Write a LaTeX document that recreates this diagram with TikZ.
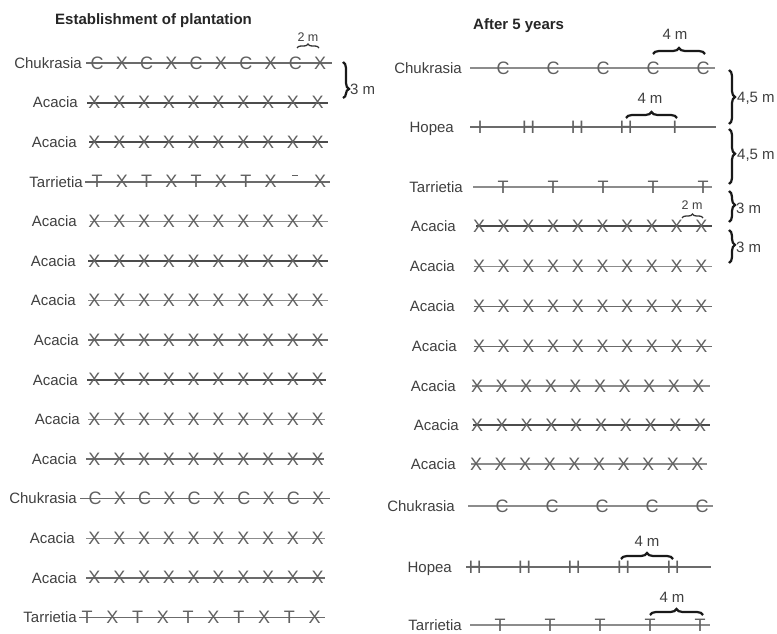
\documentclass[tikz,border=0pt]{standalone}
\usepackage{fontspec}
\setmainfont{Liberation Sans}
\usetikzlibrary{decorations.pathreplacing}
\tikzset{
  lbl/.style={font=\fontsize{15}{17}\selectfont, text=black!75, inner sep=0pt},
  ttl/.style={font=\fontsize{15}{17}\selectfont\bfseries, text=black!85, inner sep=0pt},
  mk/.style={font=\fontsize{18}{20}\selectfont, text=black!62, inner sep=0pt},
  rthin/.style={draw=black!45, line width=1.1pt},
  rmed/.style={draw=black!58, line width=1.5pt},
  rthick/.style={draw=black!70, line width=2.1pt},
  br/.style={decorate, decoration={brace, amplitude=6pt, aspect=#1}, line width=2.2pt, draw=black!90},
  br/.default=0.5,
  sbr/.style={decorate, decoration={brace, amplitude=4pt}, line width=1.3pt, draw=black!80},
  dimlbl/.style={font=\fontsize{15}{17}\selectfont, text=black!75, inner sep=0pt},
  sdimlbl/.style={font=\fontsize{12.5}{14}\selectfont, text=black!75, inner sep=0pt},
  dashmk/.style={draw=black!62, line width=1.3pt}
}
% row: id, y, label, label east x, line x0, line x1, style
\newcommand{\plantrow}[7]{%
  \coordinate (#1s) at (#5,#2);
  \coordinate (#1e) at (#6,#2);
  \draw[#7] (#1s) -- (#1e);
  \node[lbl, anchor=base east] (#1l) at (#4,#2+5.3) {#3};
}
% markers: id, y, first x, step, letters
\newcommand{\plantmarks}[5]{%
  \foreach \ml [count=\mi from 0] in {#5} {\node[mk] (#1m\mi) at ({#3+#4*\mi},#2) {\ml};}
}
\begin{document}
\begin{tikzpicture}[x=1pt,y=-1pt]
\useasboundingbox[fill=white] (0,0) rectangle (777,634);

% titles
\node[ttl, anchor=base west] (t1) at (55,25) {Establishment of plantation};
\node[ttl, anchor=base west] (t2) at (473,30) {After 5 years};

% ---------------- left panel ----------------
\plantrow{L1}{63}{Chukrasia}{82}{86}{332}{rmed}
\plantmarks{L1}{63}{97}{24.8}{C,X,C,X,C,X,C,X,C,X}
\plantrow{L2}{102.6}{Acacia}{78}{87}{328}{rthick}
\plantmarks{L2}{102.6}{94.5}{24.8}{X,X,X,X,X,X,X,X,X,X}
\plantrow{L3}{142.2}{Acacia}{77}{89}{328}{rthick}
\plantmarks{L3}{142.2}{94.5}{24.8}{X,X,X,X,X,X,X,X,X,X}
\plantrow{L4}{181.8}{Tarrietia}{83}{85}{330}{rmed}
\plantmarks{L4}{181.8}{97}{24.8}{T,X,T,X,T,X,T,X,{},X}
\draw[dashmk] ([xshift=-3pt,yshift=6pt]L4m8.center) -- ([xshift=3pt,yshift=6pt]L4m8.center);
\plantrow{L5}{221.4}{Acacia}{77}{90}{328}{rthin}
\plantmarks{L5}{221.4}{94.5}{24.8}{X,X,X,X,X,X,X,X,X,X}
\plantrow{L6}{261}{Acacia}{76}{88}{328}{rthick}
\plantmarks{L6}{261}{94.5}{24.8}{X,X,X,X,X,X,X,X,X,X}
\plantrow{L7}{300.6}{Acacia}{76}{88}{328}{rthin}
\plantmarks{L7}{300.6}{94.5}{24.8}{X,X,X,X,X,X,X,X,X,X}
\plantrow{L8}{340.2}{Acacia}{79}{88}{328}{rmed}
\plantmarks{L8}{340.2}{94.5}{24.8}{X,X,X,X,X,X,X,X,X,X}
\plantrow{L9}{379.8}{Acacia}{78}{87}{326}{rthick}
\plantmarks{L9}{379.8}{94.5}{24.8}{X,X,X,X,X,X,X,X,X,X}
\plantrow{L10}{419.4}{Acacia}{80}{88}{325}{rthin}
\plantmarks{L10}{419.4}{94.5}{24.8}{X,X,X,X,X,X,X,X,X,X}
\plantrow{L11}{459}{Acacia}{77}{86}{324}{rmed}
\plantmarks{L11}{459}{94.5}{24.8}{X,X,X,X,X,X,X,X,X,X}
\plantrow{L12}{498.6}{Chukrasia}{77}{80}{330}{rmed}
\plantmarks{L12}{498.6}{95}{24.8}{C,X,C,X,C,X,C,X,C,X}
\plantrow{L13}{538.2}{Acacia}{75}{86}{325}{rthin}
\plantmarks{L13}{538.2}{94.5}{24.8}{X,X,X,X,X,X,X,X,X,X}
\plantrow{L14}{577.8}{Acacia}{77}{86}{325}{rmed}
\plantmarks{L14}{577.8}{94.5}{24.8}{X,X,X,X,X,X,X,X,X,X}
\plantrow{L15}{617.4}{Tarrietia}{77}{79}{325}{rmed}
\plantmarks{L15}{617.4}{87}{25.3}{T,X,T,X,T,X,T,X,T,X}

% left dimensions
\draw[sbr] (297,48) -- (319,48);
\node[sdimlbl] (d2m) at (308,37) {2 m};
\draw[br=0.75] (343,62) -- (343,98);
\node[dimlbl, anchor=west] (d3m) at (350,89) {3 m};

% ---------------- right panel ----------------
\plantrow{R1}{68}{Chukrasia}{462}{470}{715}{rthin}
\plantmarks{R1}{68}{503}{50}{C,C,C,C,C}
\plantrow{R2}{127}{Hopea}{454}{470}{716}{rmed}
\plantmarks{R2}{127}{480}{48.7}{I,H,H,H,I}
\plantrow{R3}{187}{Tarrietia}{463}{473}{712}{rthin}
\plantmarks{R3}{187}{503}{50}{T,T,T,T,T}
\plantrow{R4}{226}{Acacia}{456}{476}{712}{rthick}
\plantmarks{R4}{226}{479}{24.7}{X,X,X,X,X,X,X,X,X,X}
\plantrow{R5}{266.5}{Acacia}{455}{474}{712}{rthin}
\plantmarks{R5}{266.5}{479}{24.7}{X,X,X,X,X,X,X,X,X,X}
\plantrow{R6}{306.5}{Acacia}{455}{474}{712}{rmed}
\plantmarks{R6}{306.5}{479}{24.7}{X,X,X,X,X,X,X,X,X,X}
\plantrow{R7}{346.5}{Acacia}{457}{474}{712}{rmed}
\plantmarks{R7}{346.5}{479}{24.7}{X,X,X,X,X,X,X,X,X,X}
\plantrow{R8}{386}{Acacia}{456}{472}{710}{rthin}
\plantmarks{R8}{386}{477}{24.6}{X,X,X,X,X,X,X,X,X,X}
\plantrow{R9}{425}{Acacia}{459}{473}{710}{rthick}
\plantmarks{R9}{425}{477}{24.8}{X,X,X,X,X,X,X,X,X,X}
\plantrow{R10}{464}{Acacia}{456}{471}{707}{rthin}
\plantmarks{R10}{464}{476}{24.6}{X,X,X,X,X,X,X,X,X,X}
\plantrow{R11}{506}{Chukrasia}{455}{468}{713}{rthin}
\plantmarks{R11}{506}{502}{50}{C,C,C,C,C}
\plantrow{R12}{567}{Hopea}{452}{466}{711}{rmed}
\plantmarks{R12}{567}{475}{49.5}{H,H,H,H,H}
\plantrow{R13}{625}{Tarrietia}{462}{470}{710}{rthin}
\plantmarks{R13}{625}{500}{50}{T,T,T,T,T}

% right dimensions
\draw[br] (653,54) -- (705,54);
\node[dimlbl] (d4a) at (675,34) {4 m};
\draw[br] (626,118) -- (677,118);
\node[dimlbl] (d4b) at (650,98) {4 m};
\draw[br=0.5] (729,70) -- (729,124);
\node[dimlbl, anchor=west] (d45a) at (737,98) {4,5 m};
\draw[br=0.45] (729,129) -- (729,184);
\node[dimlbl, anchor=west] (d45b) at (737,155) {4,5 m};
\draw[br=0.45] (729,191) -- (729,222);
\node[dimlbl, anchor=west] (d3a) at (736,208) {3 m};
\draw[br=0.45] (729,230) -- (729,263);
\node[dimlbl, anchor=west] (d3b) at (736,247) {3 m};
\draw[sbr] (682,218) -- (703,218);
\node[sdimlbl] (d2b) at (692,205) {2 m};
\draw[br] (621,559) -- (673,559);
\node[dimlbl] (d4c) at (647,541) {4 m};
\draw[br] (650,615) -- (703,615);
\node[dimlbl] (d4d) at (672,597) {4 m};
\end{tikzpicture}
\end{document}
